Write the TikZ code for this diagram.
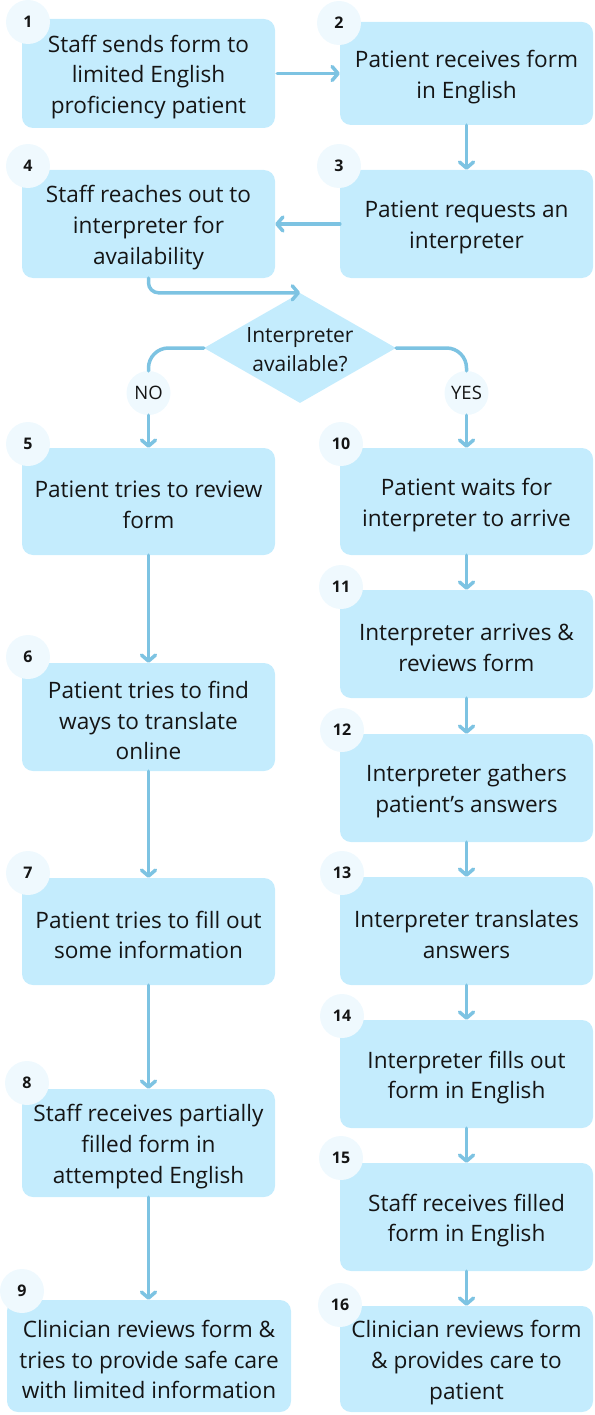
\documentclass[tikz,border=0pt]{standalone}
\usepackage{fontspec}
\setmainfont{Open Sans}
\usetikzlibrary{arrows.meta,shapes.geometric}
\definecolor{boxfill}{HTML}{C4ECFD}
\definecolor{numfill}{HTML}{EFF9FE}
\definecolor{linec}{HTML}{7DC3E2}
\definecolor{txt}{HTML}{151515}
\newcommand{\stepnode}[5][]{%
  \node[stepbox, minimum height=#4, #1] (#2) at (#3) {};
  \node[steptext] (#2t) at ([yshift=-3.5pt]#2.center) {#5};}
\begin{document}
\begin{tikzpicture}[x=1pt,y=-1pt,
  stepbox/.style={fill=boxfill, rounded corners=11pt, minimum width=253pt, inner sep=0pt},
  steptext/.style={align=center, inner sep=0pt, font=\fontsize{22.6}{30.8}\selectfont, text=txt},
  numc/.style={circle, fill=numfill, minimum size=44pt, inner sep=0pt,
    font=\fontsize{16}{16}\selectfont\bfseries, text=txt},
  ansc/.style={circle, fill=numfill, minimum size=44pt, inner sep=0pt,
    font=\fontsize{18.5}{18.5}\selectfont, text=txt},
  wire/.style={draw=linec, line width=3.5pt, line cap=round},
  conn/.style={wire, -{Straight Barb[length=6pt,width=14pt,round]}}]
\useasboundingbox (0,0) rectangle (594,1415);

% boxes
\stepnode{b1}{148.5,73.5}{109pt}{Staff sends form to\\limited English\\proficiency patient}
\stepnode{b2}{466.5,73.5}{103pt}{Patient receives form\\in English}
\stepnode{b3}{466.5,224}{108pt}{Patient requests an\\interpreter}
\stepnode{b4}{148.5,224}{108pt}{Staff reaches out to\\interpreter for\\availability}
\node[diamond, fill=boxfill, minimum width=192pt, minimum height=110pt, inner sep=0pt] (d) at (300,348) {};
\node[align=center, font=\fontsize{21}{29}\selectfont, text=txt, inner sep=0pt] (dtext) at ([yshift=-1.5pt]d.center) {Interpreter\\available?};
\stepnode{b5}{148.5,501.5}{107pt}{Patient tries to review\\form}
\stepnode{b6}{148.5,717}{108pt}{Patient tries to find\\ways to translate\\online}
\stepnode{b7}{148.5,931.5}{107pt}{Patient tries to fill out\\some information}
\stepnode{b8}{148.5,1143}{108pt}{Staff receives partially\\filled form in\\attempted English}
\stepnode[minimum width=284pt]{b9}{149,1356}{112pt}{Clinician reviews form \&\\tries to provide safe care\\with limited information}
\stepnode{b10}{466.5,501.5}{107pt}{Patient waits for\\interpreter to arrive}
\stepnode{b11}{466.5,644}{108pt}{Interpreter arrives \&\\reviews form}
\stepnode{b12}{466.5,788}{108pt}{Interpreter gathers\\patient’s answers}
\stepnode{b13}{466.5,931}{108pt}{Interpreter translates\\answers}
\stepnode{b14}{466.5,1074}{108pt}{Interpreter fills out\\form in English}
\stepnode{b15}{466.5,1217}{108pt}{Staff receives filled\\form in English}
\stepnode{b16}{466.5,1359}{106pt}{Clinician reviews form\\\& provides care to\\patient}

% number circles
\node[numc] (c1) at (28,22) {1};
\node[numc] (c2) at (339,23) {2};
\node[numc] (c3) at (339,166) {3};
\node[numc] (c4) at (28,166) {4};
\node[numc] (c5) at (28,444) {5};
\node[numc] (c6) at (28,657) {6};
\node[numc] (c7) at (28,873) {7};
\node[numc] (c8) at (27,1083) {8};
\node[numc] (c9) at (22,1291) {9};
\node[numc] (c10) at (341,444) {10};
\node[numc] (c11) at (341,587) {11};
\node[numc] (c12) at (342,730) {12};
\node[numc] (c13) at (342,873) {13};
\node[numc] (c14) at (342,1016) {14};
\node[numc] (c15) at (341,1158) {15};
\node[numc] (c16) at (340,1305) {16};

% answer circles
\node[ansc] (no) at (148.5,393) {NO};
\node[ansc] (yes) at (466.5,393) {YES};

% connectors
\draw[conn] ([xshift=2pt]b1.east) -- (b2.west |- b1.east);
\draw[conn] (b2.south) -- (b3.north);
\draw[conn] (b3.west) -- (b4.east);
\draw[conn, rounded corners=10pt] (b4.south) |- (d.north);
\draw[wire, rounded corners=20pt] (d.west) -| (no.north);
\draw[wire, rounded corners=20pt] (d.east) -| (yes.north);
\draw[conn] (no.south) -- (b5.north);
\draw[conn] (yes.south) -- (b10.north);
\draw[conn] (b5.south) -- (b6.north);
\draw[conn] (b6.south) -- (b7.north);
\draw[conn] (b7.south) -- (b8.north);
\draw[conn] (b8.south) -- (b8.south |- b9.north);
\draw[conn] (b10.south) -- (b11.north);
\draw[conn] (b11.south) -- (b12.north);
\draw[conn] (b12.south) -- (b13.north);
\draw[conn] (b13.south) -- (b14.north);
\draw[conn] (b14.south) -- (b15.north);
\draw[conn] (b15.south) -- (b16.north);
\end{tikzpicture}
\end{document}
